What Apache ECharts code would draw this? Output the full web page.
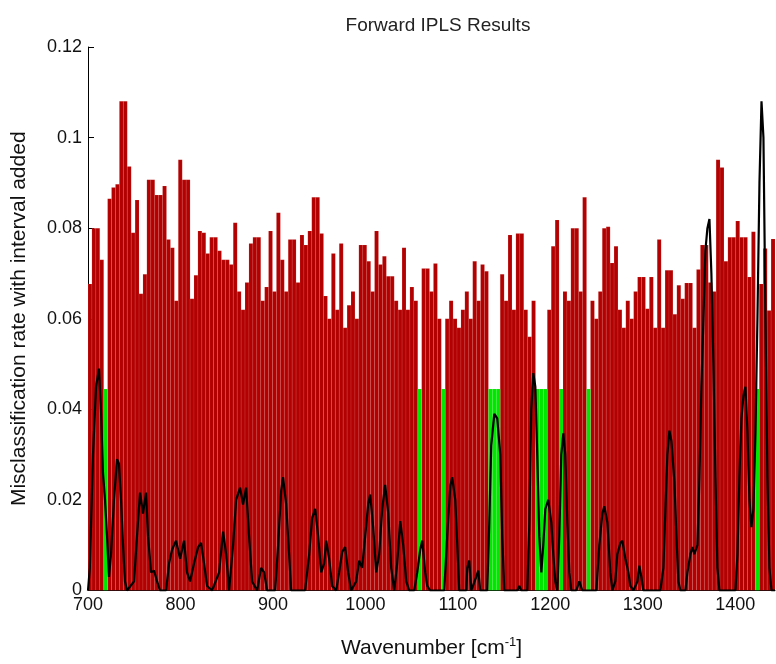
<!DOCTYPE html>
<html>
<head>
<meta charset="utf-8">
<script src="https://cdn.jsdelivr.net/npm/echarts@6/dist/echarts.min.js"></script>
<style>
html,body{margin:0;padding:0;background:#fff;}
#chart{width:776px;height:664px;}
</style>
</head>
<body>
<div id="chart"></div>
<script>
// Interval definition (wavenumber, cm^-1)
const wavenumberStart = 700;
const wavenumberEnd = 1443;
const intervalCount = 175;

// Misclassification rate with each interval added (null = selected interval)
const misclassRate = [
0.0677,0.080,0.080,0.073,null,0.0865,0.089,0.0897,0.108,0.108,
0.0936,0.079,0.0862,0.0655,0.0698,0.0907,0.0907,0.0873,0.0873,0.0893,
0.0775,0.0757,0.064,0.0951,0.0907,0.0907,0.0644,0.0696,0.0794,0.079,
0.0744,0.078,0.078,0.075,0.073,0.073,0.072,0.0812,0.066,0.062,
0.068,0.0766,0.078,0.078,0.064,0.067,0.0794,0.066,0.0834,0.073,
0.066,0.0775,0.0775,0.068,0.0785,0.0763,0.0794,0.0868,0.0868,0.0788,
0.065,0.060,0.0744,0.062,0.0766,0.058,0.063,0.066,0.060,0.0763,
0.0763,0.0727,0.066,0.0794,0.072,0.0738,0.0694,0.0694,0.064,0.062,
0.0757,0.062,0.067,0.064,null,0.0711,0.0711,0.066,0.0722,0.060,
null,0.060,0.064,0.060,0.058,0.062,0.066,0.060,0.0727,0.064,
0.072,0.0705,null,null,null,0.0698,0.064,0.0785,0.062,0.0788,
0.0788,0.062,0.056,0.064,null,null,null,0.062,0.076,0.0818,
null,0.066,0.064,0.080,0.080,0.066,0.0868,null,0.064,0.060,
0.066,0.080,0.0803,0.0723,0.076,0.062,0.058,0.064,0.060,0.066,
0.0692,0.0692,0.0622,0.0692,0.058,0.0775,0.058,0.0707,0.0707,0.061,
0.0674,0.0644,0.0679,0.0679,0.058,0.0709,0.0763,0.0763,0.068,0.066,
0.0951,0.0934,0.0727,0.078,0.078,0.0816,0.078,0.078,0.0692,0.0792,
null,0.0677,0.0755,0.0618,0.0776
];

// Selected intervals (indices) and the rate of the final model
const selectedIntervals = [4,84,90,102,103,104,114,115,116,120,127,170];
const selectedRate = 0.0445;

// Mean spectrum (scaled) overlay
const spectrumWavenumber = [
700,702,705.4,708.7,711.9,714,716.2,718.4,720.6,722.7,724.9,728.1,731.4,733.5,735.7,737.9,740,742.2,
749.8,753,756.3,759.5,762.8,764.9,768.2,771.4,774.7,777.9,784.4,787.7,790.9,795.2,799.6,803.9,807.1,
810.4,814.7,819,822.3,825.5,828.8,834.2,841.8,846.1,849.4,852.6,856.9,860.2,864.5,867.7,871,874.2,
877.5,882.9,887.2,890.5,893.7,902.4,905.6,908.9,911,914.3,917.5,919.7,934.8,939.2,942.4,945.7,948.9,
952.2,955.4,957.6,960.8,964.1,968.4,971.6,974.9,978.1,981.4,984.6,990,993.3,996.5,999.8,1003,1005.2,
1008.4,1011.7,1014.9,1018.2,1021.4,1024.7,1027.9,1031.2,1034.4,1037.7,1040.9,1044.2,1047.4,1052.8,
1056.1,1059.3,1061.5,1064.7,1066.9,1070.1,1085.3,1088.5,1091.8,1093.9,1097.2,1099.4,1101.5,1109.1,
1110.2,1112.3,1114.5,1119.9,1122.1,1124.2,1131.8,1134,1136.1,1139.4,1142.6,1145.9,1148,1150.2,1164.3,
1166.5,1168.6,1175.1,1177.3,1179.4,1181.6,1183.8,1185.9,1188.1,1190.3,1192.4,1194.6,1197.8,1201.1,
1203.2,1205.4,1207.6,1209.7,1211.9,1214.1,1216.2,1218.4,1220.6,1222.7,1228.1,1231.4,1234.6,1249.8,
1253,1256.3,1258.4,1261.7,1264.9,1267.1,1270.3,1272.5,1275.8,1277.9,1281.2,1284.4,1286.6,1289.8,
1294.2,1296.3,1298.5,1300.6,1319,1322.3,1324.5,1326.6,1328.8,1331,1334.2,1336.4,1338.5,1340.7,1346.1,
1348.3,1351.5,1353.7,1355.8,1359.1,1361.3,1363.4,1365.6,1367.7,1369.9,1372.1,1374.2,1376.4,1378.6,
1380.7,1382.9,1400.2,1402.4,1404.5,1406.7,1408.9,1411,1413.2,1415.4,1417.5,1419.7,1421.9,1424,1426.2,
1428.4,1430.5,1432.7,1434.8,1437,1439.2,1443
];
const spectrumValue = [
0,0.005,0.03,0.045,0.049,0.04,0.026,0.02,0.012,0.003,0.008,0.02,0.029,0.028,0.02,0.01,0.002,0,
0.002,0.012,0.0216,0.017,0.0216,0.012,0.004,0.0044,0.002,0,0,0.006,0.009,0.011,0.007,0.011,0.004,
0.002,0.006,0.0095,0.0105,0.006,0.001,0,0.004,0.013,0.008,0,0.01,0.02,0.0227,0.019,0.0227,0.012,
0.002,0,0.005,0.004,0,0,0.01,0.022,0.025,0.019,0.008,0,0,0.008,0.016,0.018,0.012,
0.004,0.006,0.011,0.007,0.001,0,0.004,0.0085,0.0096,0.004,0,0.002,0.0066,0.005,0.012,0.019,0.0212,
0.014,0.004,0.008,0.018,0.0233,0.017,0.005,0,0.006,0.0153,0.01,0.002,0,0,
0.004,0.009,0.011,0.004,0.001,0,0,0.012,0.023,0.025,0.02,0.01,0,0,
0.005,0.0066,0,0.003,0.0044,0,0,0.015,0.032,0.039,0.038,0.03,0.012,0,0,
0.001,0,0,0.015,0.04,0.048,0.045,0.03,0.012,0.004,0.01,0.018,0.02,0.015,
0.008,0.002,0,0.012,0.03,0.0347,0.03,0.015,0.004,0,0,0.002,0,0,
0.01,0.017,0.0186,0.015,0.004,0,0.002,0.008,0.0105,0.011,0.007,0.004,0.001,0,
0.002,0.0055,0.003,0,0,0.005,0.018,0.03,0.0353,0.033,0.024,0.012,0.002,0,0,
0.004,0.008,0.0096,0.008,0.01,0.025,0.045,0.06,0.075,0.08,0.082,0.07,0.05,0.025,
0.005,0,0,0.008,0.025,0.038,0.043,0.045,0.035,0.02,0.014,0.018,0.035,0.06,0.09,
0.108,0.1,0.06,0.025,0.005,0,0
];

const yTicks = [0, 0.02, 0.04, 0.06, 0.08, 0.1, 0.12];
const xTicks = [700, 800, 900, 1000, 1100, 1200, 1300, 1400];

// Build data
const step = (wavenumberEnd - wavenumberStart) / intervalCount;
const redData = [];
const greenData = [];
for (let i = 0; i < intervalCount; i++) {
  const a = wavenumberStart + i * step, b = a + step;
  if (selectedIntervals.indexOf(i) >= 0) greenData.push([a, b, selectedRate]);
  else if (misclassRate[i] != null) redData.push([a, b, misclassRate[i]]);
}
const spectrumData = spectrumWavenumber.map((w, i) => [w, spectrumValue[i]]);

function barRenderer(color) {
  return function (params, api) {
    const p0 = api.coord([api.value(0), api.value(2)]);
    const p1 = api.coord([api.value(1), 0]);
    return {
      type: 'rect',
      shape: { x: p0[0], y: p0[1], width: p1[0] - p0[0], height: p1[1] - p0[1] },
      style: { fill: color, stroke: 'rgba(255,235,235,0.18)', lineWidth: 0.5 }
    };
  };
}

const chart = echarts.init(document.getElementById('chart'), null, { renderer: 'canvas' });
const font = 'Liberation Sans, Arial, sans-serif';
chart.setOption({
  animation: false,
  backgroundColor: '#fff',
  title: {
    text: 'Forward IPLS Results',
    left: 433, top: 11, textAlign: 'center',
    textStyle: { fontFamily: font, fontSize: 19, fontWeight: 'normal', color: '#222' }
  },
  grid: { left: 88, right: 1, top: 47, bottom: 67, containLabel: false },
  xAxis: {
    type: 'value', min: wavenumberStart, max: wavenumberEnd, interval: 100,
    axisLine: { show: true, lineStyle: { color: '#000', width: 1 } },
    axisTick: { show: true, inside: true, length: 6, lineStyle: { color: '#000' } },
    axisLabel: {
      fontFamily: font, fontSize: 18, color: '#111', margin: 6, showMaxLabel: false,
      formatter: v => (xTicks.indexOf(v) >= 0 ? String(v) : '')
    },
    splitLine: { show: false },
    name: 'Wavenumber [cm{sup|-1}]',
    nameLocation: 'middle', nameGap: 45,
    nameTextStyle: {
      fontFamily: font, fontSize: 21, color: '#111',
      rich: { sup: { fontFamily: font, fontSize: 13, color: '#111', padding: [0, 0, 13, 0] } }
    }
  },
  yAxis: {
    type: 'value', min: 0, max: 0.12, interval: 0.02,
    axisLine: { show: true, lineStyle: { color: '#000', width: 1 } },
    axisTick: { show: true, inside: true, length: 6, lineStyle: { color: '#000' } },
    axisLabel: {
      fontFamily: font, fontSize: 18, color: '#111', margin: 6,
      formatter: v => { const t = yTicks.find(k => Math.abs(k - v) < 1e-9); return t === undefined ? '' : String(t); }
    },
    splitLine: { show: false },
    name: 'Misclassification rate with interval added',
    nameLocation: 'middle', nameGap: 58,
    nameTextStyle: { fontFamily: font, fontSize: 21, color: '#111' }
  },
  series: [
    { type: 'custom', name: 'rate', renderItem: barRenderer('#b30000'), data: redData,
      encode: { x: [0, 1], y: 2 }, clip: true, z: 1 },
    { type: 'custom', name: 'selected', renderItem: barRenderer('#00e600'), data: greenData,
      encode: { x: [0, 1], y: 2 }, clip: true, z: 2 },
    { type: 'line', name: 'spectrum', data: spectrumData, showSymbol: false, symbol: 'none',
      lineStyle: { color: '#000', width: 2.2 }, z: 3, clip: true }
  ]
});
</script>
</body>
</html>
